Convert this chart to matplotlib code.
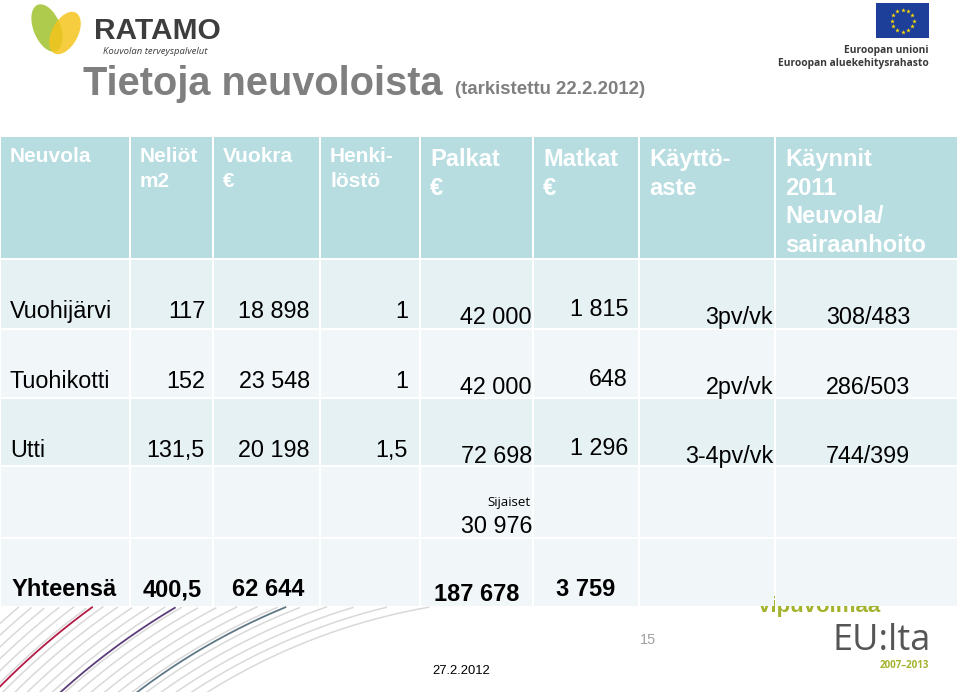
import numpy as np
import matplotlib
matplotlib.use("Agg")
import matplotlib.pyplot as plt
from matplotlib.patches import Rectangle, Ellipse

plt.rcParams['font.family'] = ['Liberation Sans', 'DejaVu Sans']

# table content
headers = ['Neuvola', 'Neliöt\nm2', 'Vuokra\n€', 'Henki-\nlöstö', 'Palkat\n€',
           'Matkat\n€', 'Käyttö-\naste', 'Käynnit\n2011\nNeuvola/\nsairaanhoito']
neuvola = ['Vuohijärvi', 'Tuohikotti', 'Utti']
neliot = [117, 152, 131.5]
vuokra = [18898, 23548, 20198]
henkilosto = [1, 1, 1.5]
palkat = [42000, 42000, 72698]
matkat = [1815, 648, 1296]
kayttoaste = ['3pv/vk', '2pv/vk', '3-4pv/vk']
kaynnit_neuvola = [308, 286, 744]
kaynnit_sairaanhoito = [483, 503, 399]
sijaiset = 30976
total_label = 'Yhteensä'
total_neliot = 400.5
total_vuokra = 62644
total_palkat = 187678
total_matkat = 3759


def fi(v):
    # finnish number format: space thousands, comma decimals
    if float(v).is_integer():
        return '{:,}'.format(int(v)).replace(',', ' ')
    return str(v).replace('.', ',')


rows = []
for i in range(len(neuvola)):
    rows.append([neuvola[i], fi(neliot[i]), fi(vuokra[i]), fi(henkilosto[i]),
                 fi(palkat[i]), fi(matkat[i]), kayttoaste[i],
                 '{}/{}'.format(kaynnit_neuvola[i], kaynnit_sairaanhoito[i])])

# layout (pixels)
col_edges = [0, 130, 213, 320, 420, 533, 639, 775, 958]
row_edges = [136, 259, 329, 398, 466, 538, 607]
head_col = '#b7dde1'
band = ['#e6f1f4', '#f1f6f9', '#e6f1f4', '#f1f6f9', '#f1f6f9']
txt_right = [None, 205, 310, 408, 532, 628, 773, 910]
col_dy = [0, 0, 0, 0, 6, -2, 6, 6]

fig = plt.figure(figsize=(9.6, 6.92), dpi=100)
ax = fig.add_axes([0, 0, 1, 1])
ax.set_xlim(0, 960)
ax.set_ylim(692, 0)
ax.axis('off')

# decorative arcs bottom left
cx, cy = 535, 1215
t = np.linspace(np.pi / 2, np.pi, 400)
for r in np.arange(617, 800, 8.6):
    xs = cx + r * np.cos(t)
    ys = cy - r * np.sin(t)
    ys[ys < row_edges[-1]] = np.nan
    ax.plot(xs, ys, color='#d9d9d9', lw=1.1, zorder=1)
for r, c in [(752, '#b31a44'), (706, '#5c3d7a'), (657, '#5f7886')]:
    xs = cx + r * np.cos(t)
    ys = cy - r * np.sin(t)
    ys[ys < row_edges[-1]] = np.nan
    ax.plot(xs, ys, color=c, lw=1.3, zorder=1)

# cells
for ri in range(len(row_edges) - 1):
    for ci in range(len(col_edges) - 1):
        fc = head_col if ri == 0 else band[ri - 1]
        ax.add_patch(Rectangle((col_edges[ci] + 1, row_edges[ri] + 1),
                               col_edges[ci + 1] - col_edges[ci] - 2,
                               row_edges[ri + 1] - row_edges[ri] - 2,
                               fc=fc, ec='none', zorder=3))

# header text
for ci, h in enumerate(headers):
    big = ci >= 4
    fs = 17 if big else 15
    lh = 28.7 if big else 25
    y0 = 166 if big else 162
    for k, line in enumerate(h.split('\n')):
        ax.text(col_edges[ci] + 10, y0 + k * lh, line, color='white', fontsize=fs,
                fontweight='bold', va='baseline', ha='left', zorder=5)

# body rows
for ri, row in enumerate(rows):
    base = row_edges[ri + 1] + 59
    for ci, val in enumerate(row):
        if ci == 0:
            ax.text(10, base, val, fontsize=16.8, va='baseline', ha='left', zorder=5)
        else:
            ax.text(txt_right[ci], base + col_dy[ci], val, fontsize=16.8,
                    va='baseline', ha='right', zorder=5)

# substitute salaries
ax.text(531, 506, 'Sijaiset', fontsize=9.5, family=['Open Sans', 'DejaVu Sans'],
        va='baseline', ha='right', zorder=5)
ax.text(532, 533, fi(sijaiset), fontsize=16.8, va='baseline', ha='right', zorder=5)

# totals
ax.text(12, 596, total_label, fontsize=17, fontweight='bold', va='baseline', zorder=5)
ax.text(202, 596, fi(total_neliot), fontsize=17, fontweight='bold', va='baseline', ha='right', zorder=5)
ax.text(304, 596, fi(total_vuokra), fontsize=17, fontweight='bold', va='baseline', ha='right', zorder=5)
ax.text(519, 601, fi(total_palkat), fontsize=17, fontweight='bold', va='baseline', ha='right', zorder=5)
ax.text(615, 596, fi(total_matkat), fontsize=17, fontweight='bold', va='baseline', ha='right', zorder=5)

# title
ax.text(83, 95, 'Tietoja neuvoloista', fontsize=28.6, fontweight='bold', color='#7f7f7f',
        va='baseline', ha='left')
ax.text(455, 94, '(tarkistettu 22.2.2012)', fontsize=13.4, fontweight='bold', color='#7f7f7f',
        va='baseline', ha='left')

# RATAMO logo
ax.add_patch(Ellipse((47, 28), 27, 50, angle=-22, fc='#a6c63a', ec='none', alpha=0.9))
ax.add_patch(Ellipse((65, 33), 26, 46, angle=28, fc='#f4c51c', ec='none', alpha=0.85))
ax.text(94, 39, 'RATAMO', fontsize=21.5, fontweight='bold', color='#3d3d3d', va='baseline')
ax.text(103, 54, 'Kouvolan terveyspalvelut', fontsize=6.8, style='italic', color='#3d3d3d',
        va='baseline', family=['Open Sans', 'DejaVu Sans'])

# EU flag
ax.add_patch(Rectangle((876, 3), 53, 35, fc='#1d3f9a', ec='none'))
ang = np.linspace(0, 2 * np.pi, 13)[:-1]
ax.scatter(902.5 + 11 * np.cos(ang), 20.5 + 11 * np.sin(ang), marker='*', s=12,
           color='#ffdd00', lw=0, zorder=4)
ax.text(929, 53, 'Euroopan unioni', fontsize=7.4, fontweight='bold', color='#3a3a3a',
        ha='right', va='baseline', family=['Open Sans', 'DejaVu Sans'])
ax.text(929, 66, 'Euroopan aluekehitysrahasto', fontsize=7.4, fontweight='bold', color='#3a3a3a',
        ha='right', va='baseline', family=['Open Sans', 'DejaVu Sans'])

# bottom right logo
ax.text(757, 612, 'Vipuvoimaa', fontsize=16, fontweight='bold', color='#a3b32c',
        va='baseline', zorder=2)
ax.text(931, 650, 'EU:lta', fontsize=26, color='#555555', va='baseline', ha='right',
        family=['Open Sans', 'DejaVu Sans'])
ax.text(929, 668, '2007–2013', fontsize=7, fontweight='bold', color='#a3b32c',
        ha='right', va='baseline', family=['Open Sans', 'DejaVu Sans'])

# footer
ax.text(648, 644, '15', fontsize=10.4, color='#a0a0a0', ha='center', va='baseline')
ax.text(432, 674, '27.2.2012', fontsize=9.4, color='black', ha='left', va='baseline')

fig.savefig('out.png', dpi=100)
